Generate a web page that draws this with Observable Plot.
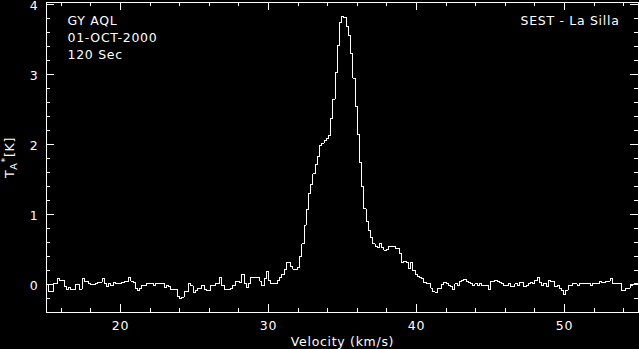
<!DOCTYPE html>
<html>
<head>
<meta charset="utf-8">
<script src="https://cdn.jsdelivr.net/npm/d3@7"></script>
<script src="https://cdn.jsdelivr.net/npm/@observablehq/plot@0.6"></script>
<style>
  html, body { margin: 0; padding: 0; background: #000; }
</style>
</head>
<body>
<script>
// ---- data ----
const V0 = 15;          // velocity of first channel's left edge (km/s)
const DV = 0.15;        // channel width (km/s)
const tempK = [
  0.0, -0.1, -0.1, 0.02, 0.02, 0.08, 0.06, 0.06, -0.03, -0.07,
  -0.04, -0.07, -0.07, 0.0, 0.0, -0.07, 0.08, 0.04, 0.04, 0.02,
  0.0, 0.0, 0.02, 0.03, 0.03, 0.09, 0.02, -0.03, 0.01, -0.02,
  0.03, 0.01, 0.01, 0.02, 0.03, 0.05, 0.05, 0.1, 0.05, 0.03,
  -0.05, -0.08, -0.06, -0.01, -0.01, 0.01, 0.02, 0.02, -0.01, 0.02,
  0.01, 0.02, 0.02, -0.04, -0.01, -0.03, -0.07, -0.07, -0.07, -0.17,
  -0.2, -0.18, -0.1, -0.1, 0.01, -0.02, -0.12, -0.09, -0.05, -0.05,
  -0.01, -0.07, -0.08, -0.08, -0.02, -0.02, 0.02, 0.02, 0.1, -0.01,
  -0.07, -0.07, -0.07, -0.06, -0.01, 0.04, 0.04, 0.03, 0.14, 0.01,
  -0.04, 0.02, 0.1, 0.1, 0.1, 0.1, 0.05, -0.02, 0.09, 0.19,
  0.06, 0.02, 0.02, 0.02, 0.06, 0.1, 0.14, 0.22, 0.32, 0.31,
  0.26, 0.22, 0.22, 0.25, 0.4, 0.58, 0.85, 1.07, 1.3, 1.43,
  1.58, 1.72, 1.83, 1.98, 2.02, 2.06, 2.08, 2.13, 2.37, 2.65,
  3.03, 3.41, 3.74, 3.83, 3.81, 3.69, 3.56, 3.3, 2.95, 2.55,
  2.14, 1.75, 1.4, 1.08, 0.9, 0.77, 0.67, 0.58, 0.55, 0.53,
  0.58, 0.53, 0.49, 0.5, 0.54, 0.55, 0.55, 0.51, 0.52, 0.45,
  0.31, 0.33, 0.31, 0.23, 0.31, 0.2, 0.14, 0.11, 0.1, 0.08,
  0.03, 0.02, 0.01, -0.05, -0.1, -0.11, -0.06, -0.05, 0.0, 0.03,
  0.01, -0.02, -0.03, -0.07, 0.01, -0.02, 0.04, 0.06, 0.07, 0.05,
  0.03, 0.01, -0.01, 0.01, -0.01, 0.02, -0.02, -0.02, -0.02, -0.07,
  0.04, 0.04, 0.06, 0.05, 0.03, 0.02, -0.01, -0.01, 0.01, -0.03,
  -0.03, 0.01, -0.01, 0.03, 0.03, -0.03, -0.01, 0.01, 0.03, 0.01,
  0.06, 0.1, 0.03, -0.01, 0.02, -0.03, 0.06, 0.05, 0.05, -0.03,
  -0.01, -0.05, -0.09, -0.14, -0.08, -0.02, -0.01, 0.01, 0.01, -0.01,
  0.02, 0.02, 0.01, 0.01, 0.02, -0.01, 0.02, 0.01, 0.01, 0.04,
  0.03, 0.03, 0.05, 0.05, 0.08, 0.02, 0.02, 0.02, 0.01, -0.09,
  -0.09, -0.05, -0.05, -0.01, 0.0, 0.01, 0.01
];
const xMajor = [20, 30, 40, 50];
const xMinor = [16, 18, 22, 24, 26, 28, 32, 34, 36, 38, 42, 44, 46, 48, 52, 54];
const yMajor = [0, 1, 2, 3, 4];
const yMinor = [-0.4, -0.2, 0.2, 0.4, 0.6, 0.8, 1.2, 1.4, 1.6, 1.8, 2.2, 2.4, 2.6, 2.8, 3.2, 3.4, 3.6, 3.8];
const infoLines = ["GY AQL", "01-OCT-2000", "120 Sec"];
const siteLabel = "SEST - La Silla";
const xLabel = "Velocity (km/s)";
const yLabelParts = ["T", "A", "*", "[K]"];

// ---- table for the step line (left edges + closing edge) ----
const rows = tempK.map((t, i) => ({v: V0 + i * DV, t}));
rows.push({v: V0 + tempK.length * DV, t: tempK[tempK.length - 1]});

// ---- layout ----
const W = 639, H = 349;
const mL = 46, mR = 1, mT = 2, mB = 37;
const pw = W - mL - mR, ph = H - mT - mB;
const MAJ = 8, MIN = 4;
const ink = {stroke: "white", strokeWidth: 1};

const marks = [
  Plot.line(rows, {x: "v", y: "t", curve: "step-after", stroke: "white", strokeWidth: 1, clip: true}),
  Plot.frame({stroke: "white", strokeWidth: 1}),
  // inward ticks on all four sides
  Plot.tickX(xMajor, {x: d => d, ...ink, insetTop: ph - MAJ}),
  Plot.tickX(xMajor, {x: d => d, ...ink, insetBottom: ph - MAJ}),
  Plot.tickX(xMinor, {x: d => d, ...ink, insetTop: ph - MIN}),
  Plot.tickX(xMinor, {x: d => d, ...ink, insetBottom: ph - MIN}),
  Plot.tickY(yMajor, {y: d => d, ...ink, insetRight: pw - MAJ}),
  Plot.tickY(yMajor, {y: d => d, ...ink, insetLeft: pw - MAJ}),
  Plot.tickY(yMinor, {y: d => d, ...ink, insetRight: pw - MIN}),
  Plot.tickY(yMinor, {y: d => d, ...ink, insetLeft: pw - MIN}),
  // axis titles and annotations
  Plot.text([xLabel], {frameAnchor: "bottom", lineAnchor: "bottom", dy: 33, fill: "white"}),
  Plot.text([yLabelParts.join("")], {frameAnchor: "left", rotate: -90, lineAnchor: "bottom", textAnchor: "middle", dx: -33, fill: "white"}),
  ...infoLines.map((s, i) => Plot.text([s], {frameAnchor: "top-left", textAnchor: "start", lineAnchor: "bottom", dx: 21, dy: 22 + 17 * i, fill: "white"})),
  Plot.text([siteLabel], {frameAnchor: "top-right", textAnchor: "end", lineAnchor: "bottom", dx: -19, dy: 22, fill: "white"})
];

const svg = Plot.plot({
  width: W, height: H,
  marginLeft: mL, marginRight: mR, marginTop: mT, marginBottom: mB,
  style: {
    background: "black", color: "white",
    fontFamily: "DejaVu Sans, sans-serif", fontSize: "12.5px",
    letterSpacing: "0.7px", shapeRendering: "crispEdges", overflow: "visible"
  },
  x: {domain: [15, 55], ticks: 4, tickSize: 0, tickPadding: 9, label: null},
  y: {domain: [-0.4, 4.03], ticks: 5, tickSize: 0, tickPadding: 8, label: null},
  marks
});
document.body.appendChild(svg);

// y tick labels sit a little below their ticks in the reference
for (const t of svg.querySelectorAll('[aria-label^="y-axis"] text')) {
  const tr = t.getAttribute("transform") || "";
  t.setAttribute("transform", (tr + " translate(0,1.5)").trim());
}

// sub/superscripts for the y-axis title
for (const t of svg.querySelectorAll("text")) {
  if (t.textContent === yLabelParts.join("")) {
    t.textContent = "";
    const ns = "http://www.w3.org/2000/svg";
    const specs = [
      [yLabelParts[0], null, null],
      [yLabelParts[1], "3", "9.5px"],
      [yLabelParts[2], "-9", "9.5px"],
      [yLabelParts[3], "6", null]
    ];
    for (const [txt, dy, fs] of specs) {
      const sp = document.createElementNS(ns, "tspan");
      sp.textContent = txt;
      if (dy) sp.setAttribute("dy", dy);
      if (fs) sp.setAttribute("font-size", fs);
      t.appendChild(sp);
    }
  }
}
</script>
</body>
</html>
